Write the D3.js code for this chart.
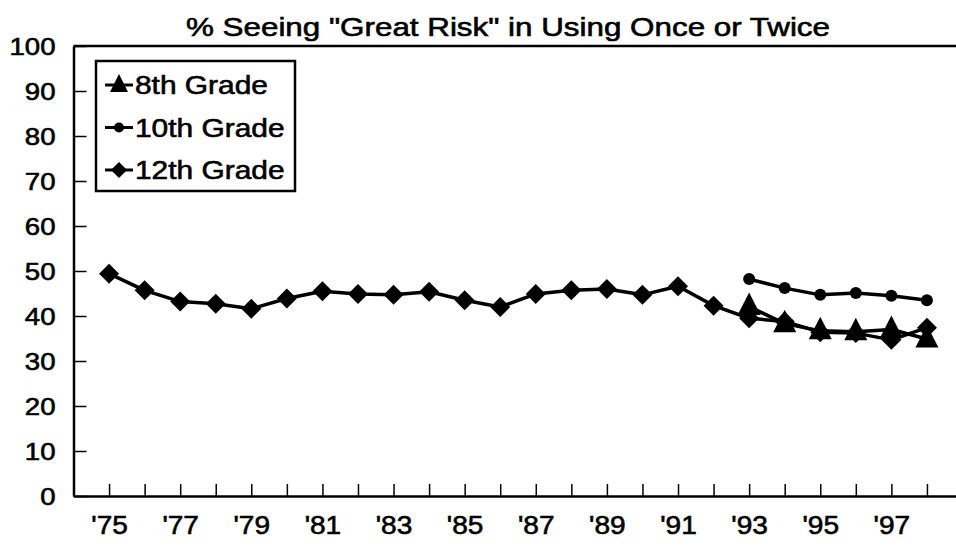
<!DOCTYPE html>
<meta charset="utf-8">
<style>
body { margin: 0; background: #fff; }
text { font-family: "Liberation Sans", Arial, sans-serif; fill: #000; stroke: #000; stroke-width: 0.6px; }
.axis path, .axis line { stroke: #000; }
</style>
<body>
<script src="https://cdn.jsdelivr.net/npm/d3@7"></script>
<script>

// data
var years = d3.range(1975, 1999);
var grade12 = [49.4, 45.7, 43.2, 42.7, 41.6, 43.9, 45.5, 44.9, 44.7, 45.4, 43.5, 42.0,
               44.9, 45.7, 46.0, 44.7, 46.6, 42.3, 39.5, 38.8, 36.4, 36.2, 34.7, 37.4];
var years8and10 = [1993, 1994, 1995, 1996, 1997, 1998];
var grade10 = [48.2, 46.2, 44.7, 45.1, 44.5, 43.5];
var grade8 = [42.1, 38.3, 36.7, 36.5, 37.0, 34.9];
var yTicks = [0, 10, 20, 30, 40, 50, 60, 70, 80, 90, 100];
var legendNames = ["8th Grade", "10th Grade", "12th Grade"];
var title = '% Seeing "Great Risk" in Using Once or Twice';

var width = 956, height = 546;
var stretch = 1.15; // the scanned text is a bit wider than normal

var svg = d3.select("body").append("svg")
    .attr("width", width)
    .attr("height", height);

var x = d3.scaleLinear().domain([1974, 1999]).range([73.5, 962.5]);
var y = d3.scaleLinear().domain([0, 100]).range([496, 46]);

// title
svg.append("text")
    .attr("x", 186)
    .attr("y", 36)
    .attr("font-size", 26)
    .attr("textLength", 644)
    .attr("lengthAdjust", "spacingAndGlyphs")
    .text(title);

// top border
svg.append("line")
    .attr("x1", x(1974)).attr("x2", width)
    .attr("y1", y(100)).attr("y2", y(100))
    .attr("stroke", "#000")
    .attr("stroke-width", 2.5);

// y axis
var yAxis = svg.append("g")
    .attr("class", "axis")
    .attr("transform", "translate(" + x(1974) + ",0)")
    .call(d3.axisLeft(y).tickValues(yTicks).tickSizeInner(-13).tickSizeOuter(0).tickPadding(20));
yAxis.select(".domain").attr("stroke-width", 2.5);
yAxis.selectAll(".tick line").attr("stroke-width", 1.5);
yAxis.selectAll(".tick text")
    .attr("font-size", 24)
    .attr("x", -18 / stretch)
    .attr("dy", "0.36em")
    .attr("transform", "scale(" + stretch + ",1)");

// x axis
var xAxis = svg.append("g")
    .attr("class", "axis")
    .attr("transform", "translate(0," + y(0) + ")")
    .call(d3.axisBottom(x).tickValues(years).tickSizeInner(-12).tickSizeOuter(0)
        .tickFormat(function(d) { return d % 2 == 1 ? "'" + String(d).slice(2) : ""; }));
xAxis.select(".domain").attr("stroke-width", 2.5);
xAxis.selectAll(".tick line").attr("stroke-width", 1.5);
xAxis.selectAll(".tick text")
    .attr("font-size", 26)
    .attr("y", 38)
    .attr("dy", 0)
    .attr("transform", "scale(1.08,1)");

// markers
var diamond = d3.symbol(d3.symbolSquare, 200);
var trianglePath = "M0,-14L11.5,8.5L-11.5,8.5Z";

function drawLine(xs, vals) {
  var pts = xs.map(function(d, i) { return [x(d), y(vals[i])]; });
  svg.append("path")
      .datum(pts)
      .attr("fill", "none")
      .attr("stroke", "#000")
      .attr("stroke-width", 3.5)
      .attr("stroke-linejoin", "round")
      .attr("d", d3.line());
  return pts;
}

var p12 = drawLine(years, grade12);
var p10 = drawLine(years8and10, grade10);
var p8 = drawLine(years8and10, grade8);

svg.append("g").selectAll("path")
    .data(p12)
    .enter().append("path")
    .attr("d", diamond())
    .attr("transform", function(d) { return "translate(" + d[0] + "," + d[1] + ") rotate(45)"; });

svg.append("g").selectAll("circle")
    .data(p10)
    .enter().append("circle")
    .attr("cx", function(d) { return d[0]; })
    .attr("cy", function(d) { return d[1]; })
    .attr("r", 6);

svg.append("g").selectAll("path")
    .data(p8)
    .enter().append("path")
    .attr("d", trianglePath)
    .attr("transform", function(d) { return "translate(" + d[0] + "," + d[1] + ")"; });

// legend
var legend = svg.append("g");
legend.append("rect")
    .attr("x", 96).attr("y", 61)
    .attr("width", 199).attr("height", 130)
    .attr("fill", "#fff")
    .attr("stroke", "#000")
    .attr("stroke-width", 2.5);

var rows = legend.selectAll(".row")
    .data(legendNames)
    .enter().append("g")
    .attr("class", "row")
    .attr("transform", function(d, i) { return "translate(0," + (85 + i * 42.5) + ")"; });

rows.append("line")
    .attr("x1", 105).attr("x2", 133)
    .attr("stroke", "#000")
    .attr("stroke-width", 3);

rows.each(function(d, i) {
  var r = d3.select(this);
  if (i == 0) {
    r.append("path").attr("d", "M0,-11L9,7L-9,7Z").attr("transform", "translate(119,0)");
  } else if (i == 1) {
    r.append("circle").attr("cx", 119).attr("r", 5);
  } else {
    r.append("path").attr("d", d3.symbol(d3.symbolSquare, 130)()).attr("transform", "translate(119,0) rotate(45)");
  }
});

rows.append("text")
    .attr("transform", "translate(135,0) scale(" + stretch + ",1)")
    .attr("dy", "0.36em")
    .attr("font-size", 26)
    .text(function(d) { return d; });

</script>
</body>
